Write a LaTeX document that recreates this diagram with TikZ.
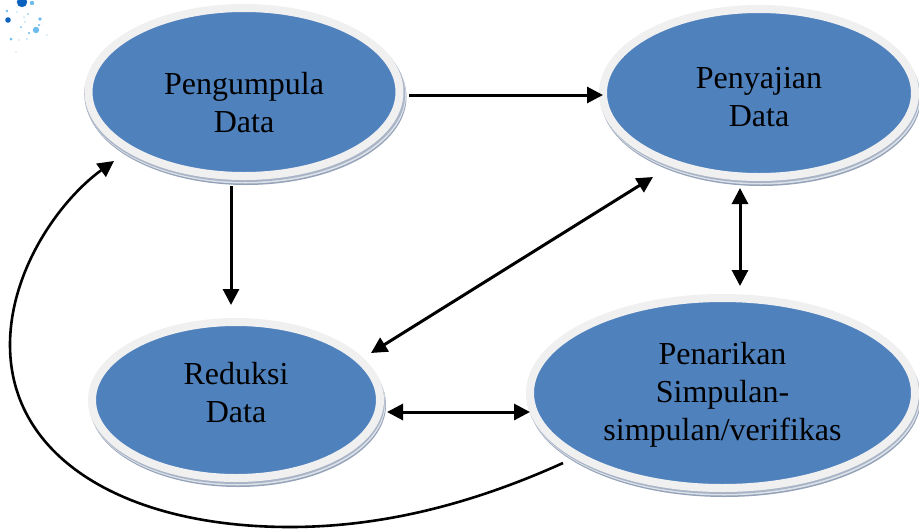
\documentclass[tikz,border=0pt]{standalone}
\usepackage{fontspec}
\setmainfont{Liberation Serif}
\usetikzlibrary{shapes.geometric,arrows.meta}
\definecolor{blu}{HTML}{4F81BD}
\definecolor{rim}{HTML}{F0F0F0}
\definecolor{shda}{HTML}{94A2B8}
\definecolor{shdb}{HTML}{DDE2EA}
\definecolor{shdc}{HTML}{A9B5C7}
\definecolor{dot1}{HTML}{0B62BE}
\definecolor{dot2}{HTML}{6CBCEE}
\definecolor{dot3}{HTML}{C4E4F8}
\newcommand{\liftlines}[2]{\raisebox{#1}[0pt][0pt]{\begin{tabular}[c]{@{}c@{}}#2\end{tabular}}}
\tikzset{
 x=1pt,y=-1pt,
 oval/.style={shape=ellipse,inner sep=0pt,fill=blu,draw=rim,line width=8pt,font=\fontsize{32}{38}\selectfont,text=black},
 under/.style={shape=ellipse,inner sep=0pt},
 arr/.style={line width=3pt,-{Triangle[length=16pt,width=16pt]}},
 biarr/.style={line width=3pt,{Triangle[length=16pt,width=16pt]}-{Triangle[length=16pt,width=16pt]}},
 curved/.style={line width=2.6pt,-{Triangle[length=16pt,width=16pt]}}
}
\begin{document}
\begin{tikzpicture}
\useasboundingbox (0,0) rectangle (919,528);
% sparkle
\foreach \px/\py/\r/\c in {22/2/5.2/dot1,32/3/2.2/dot2,8/20/2.8/dot1,7/11/1.3/dot2,36/30/3.2/dot2,40/19/1.8/dot2,39/25/1.1/dot2,29/33/1.2/dot2,11/39/1.5/dot2,21/27/1/dot2,25/22/1.2/dot3,17/12/1/dot3,28/14/.8/dot2,16/2/.7/dot3,47/35/.8/dot3,27/39/1.1/dot3,19/40/.8/dot3,16/52/.8/dot3,24/17/1/dot3,42/24/.6/dot3}
  \fill[\c] (\px,\py) circle[radius=\r];
% shadows
\foreach \cx/\cy/\w/\h in {244/92/321/176,759/93/320/176,236/400/296/164,722.5/393/393/198}{
  \node[under,fill=shda,minimum width=\w pt,minimum height=\h pt] at (\cx+2,\cy+5) {};
  \node[under,fill=shdb,minimum width=\w pt,minimum height=\h pt] at (\cx+1.5,\cy+3.5) {};
  \node[under,fill=shdc,minimum width=\w pt,minimum height=\h pt] at (\cx+.7,\cy+2) {};
}
% ovals
\node[oval,minimum width=311pt,minimum height=168pt] (a) at (244,92) {\liftlines{-20.4pt}{Pengumpula\\Data}};
\node[oval,minimum width=312pt,minimum height=168pt] (b) at (759,93) {\liftlines{-13.4pt}{Penyajian\\Data}};
\node[oval,minimum width=288pt,minimum height=156pt] (c) at (236,400) {\liftlines{-2.4pt}{Reduksi\\Data}};
\node[oval,minimum width=385pt,minimum height=190pt] (d) at (722.5,393) {\liftlines{-8.4pt}{Penarikan\\Simpulan-\\simpulan/verifikas}};
% connector ends beside the ovals
\coordinate (ab1) at (409,95);
\coordinate (ab2) at (603,95);
\coordinate (ac1) at (231,186);
\coordinate (ac2) at (231,305);
\coordinate (bc1) at (653,177);
\coordinate (bc2) at (371,353);
\coordinate (bd1) at (740,188);
\coordinate (bd2) at (740,286);
\coordinate (cd1) at (387,412);
\coordinate (cd2) at (530,412);
\coordinate (da1) at (563,463);
\coordinate (da2) at (114,161);
% connectors
\draw[arr] (ab1) -- (ab2);
\draw[arr] (ac1) -- (ac2);
\draw[biarr] (bc2) -- (bc1);
\draw[biarr] (bd1) -- (bd2);
\draw[biarr] (cd1) -- (cd2);
\draw[curved] (da1) .. controls (470,505) and (380,527) .. (290,527)
   .. controls (125,527) and (10,458) .. (10,345)
   .. controls (10,270) and (60,200) .. (da2);
\end{tikzpicture}
\end{document}
